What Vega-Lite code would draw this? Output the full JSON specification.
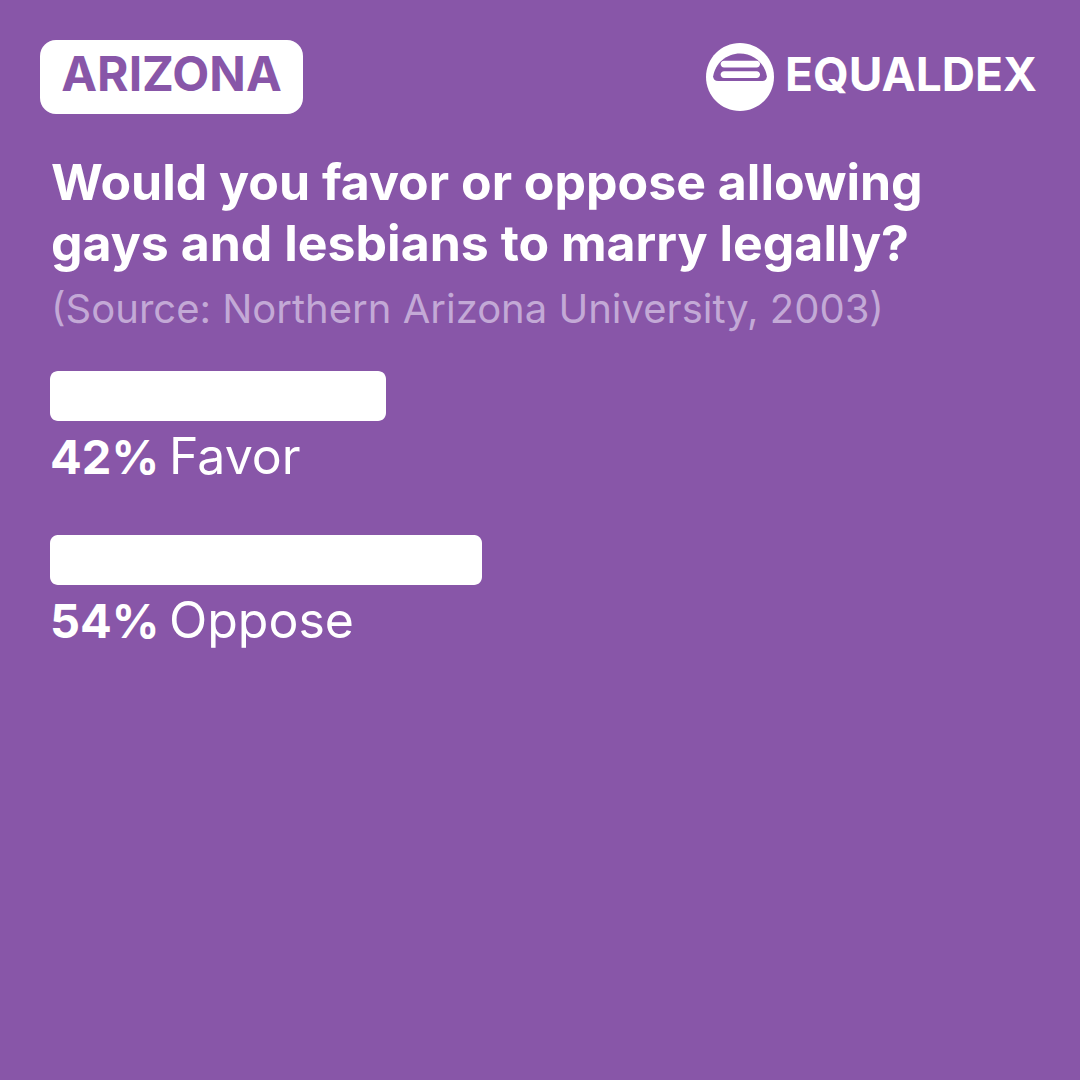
{
  "$schema": "https://vega.github.io/schema/vega-lite/v6.json",
  "background": "#8856a8",
  "padding": {"top": 40, "left": 0, "right": 0, "bottom": 0},
  "spacing": 46,
  "config": {"view": {"stroke": null}, "font": "Inter"},
  "vconcat": [
    {
      "width": 1080,
      "height": 74,
      "data": {"values": [{"state": "ARIZONA", "brand": "EQUALDEX"}]},
      "layer": [
        {
          "mark": {"type": "rect", "color": "white", "cornerRadius": 16},
          "encoding": {
            "x": {"datum": -1.25, "type": "quantitative", "scale": {"domain": [0, 100], "range": [50, 850]}, "axis": null},
            "x2": {"datum": 31.625}
          }
        },
        {
          "mark": {"type": "text", "color": "#8856a8", "font": "Inter", "fontSize": 48, "fontWeight": "bold", "align": "center", "baseline": "middle"},
          "encoding": {
            "x": {"datum": 15.19, "type": "quantitative", "axis": null},
            "text": {"field": "state"}
          }
        },
        {
          "mark": {"type": "point", "filled": true, "color": "white", "opacity": 1, "strokeWidth": 0, "size": 4624, "shape": "M -1 0 A 1 1 0 1 0 1 0 A 1 1 0 1 0 -1 0 Z"},
          "encoding": {"x": {"datum": 86.25, "type": "quantitative", "axis": null}}
        },
        {
          "mark": {"type": "point", "filled": true, "color": "#8856a8", "opacity": 1, "strokeWidth": 0, "size": 4624, "shape": "M -0.64 0.12 L 0.64 0.12 Q 0.79 0.12 0.79 -0.02 A 0.8 0.8 0 0 0 -0.79 -0.02 Q -0.79 0.12 -0.64 0.12 Z"},
          "encoding": {"x": {"datum": 86.25, "type": "quantitative", "axis": null}}
        },
        {
          "mark": {"type": "point", "filled": true, "color": "white", "opacity": 1, "strokeWidth": 0, "size": 4624, "shape": "M -0.47 -0.48 L 0.49 -0.48 A 0.1 0.1 0 0 1 0.49 -0.28 L -0.47 -0.28 A 0.1 0.1 0 0 1 -0.47 -0.48 Z M -0.47 -0.17 L 0.49 -0.17 A 0.1 0.1 0 0 1 0.49 0.03 L -0.47 0.03 A 0.1 0.1 0 0 1 -0.47 -0.17 Z"},
          "encoding": {"x": {"datum": 86.25, "type": "quantitative", "axis": null}}
        },
        {
          "mark": {"type": "text", "color": "white", "font": "Inter", "fontSize": 46, "fontWeight": "bold", "align": "left", "baseline": "middle"},
          "encoding": {
            "x": {"datum": 91.875, "type": "quantitative", "axis": null},
            "text": {"field": "brand"}
          }
        }
      ]
    },
    {
      "width": 1080,
      "height": 740,
      "title": {
        "text": ["Would you favor or oppose allowing", "gays and lesbians to marry legally?"],
        "subtitle": "(Source: Northern Arizona University, 2003)",
        "anchor": "start",
        "frame": "group",
        "dx": 51,
        "font": "Inter",
        "fontSize": 50,
        "fontWeight": "bold",
        "color": "white",
        "lineHeight": 61,
        "baseline": "top",
        "subtitleFont": "Inter",
        "subtitleFontSize": 40,
        "subtitleFontWeight": "normal",
        "subtitleColor": "#c3a9d6",
        "subtitlePadding": 20,
        "offset": 9
      },
      "data": {"values": [
        {"answer": "Favor", "value": 42},
        {"answer": "Oppose", "value": 54}
      ]},
      "transform": [{"calculate": "format(datum.value, 'd') + '%'", "as": "label"}],
      "layer": [
        {
          "mark": {"type": "bar", "color": "white", "cornerRadius": 8},
          "encoding": {
            "x": {"field": "value", "type": "quantitative", "scale": {"domain": [0, 100], "range": [50, 850]}, "axis": null},
            "y": {"field": "answer", "type": "nominal", "scale": {"type": "band", "domain": ["Favor", "Oppose"], "range": [31, 245], "paddingInner": 0.695, "paddingOuter": 0}, "axis": null}
          }
        },
        {
          "mark": {"type": "text", "color": "white", "font": "Inter", "fontSize": 47, "fontWeight": "bold", "align": "left", "baseline": "alphabetic", "dy": 78},
          "encoding": {
            "x": {"datum": 0, "type": "quantitative", "axis": null},
            "y": {"field": "answer", "type": "nominal", "axis": null},
            "text": {"field": "label"}
          }
        },
        {
          "mark": {"type": "text", "color": "white", "font": "Inter", "fontSize": 50, "fontWeight": "normal", "align": "left", "baseline": "alphabetic", "dy": 78, "dx": 119},
          "encoding": {
            "x": {"datum": 0, "type": "quantitative", "axis": null},
            "y": {"field": "answer", "type": "nominal", "axis": null},
            "text": {"field": "answer"}
          }
        }
      ]
    }
  ]
}
